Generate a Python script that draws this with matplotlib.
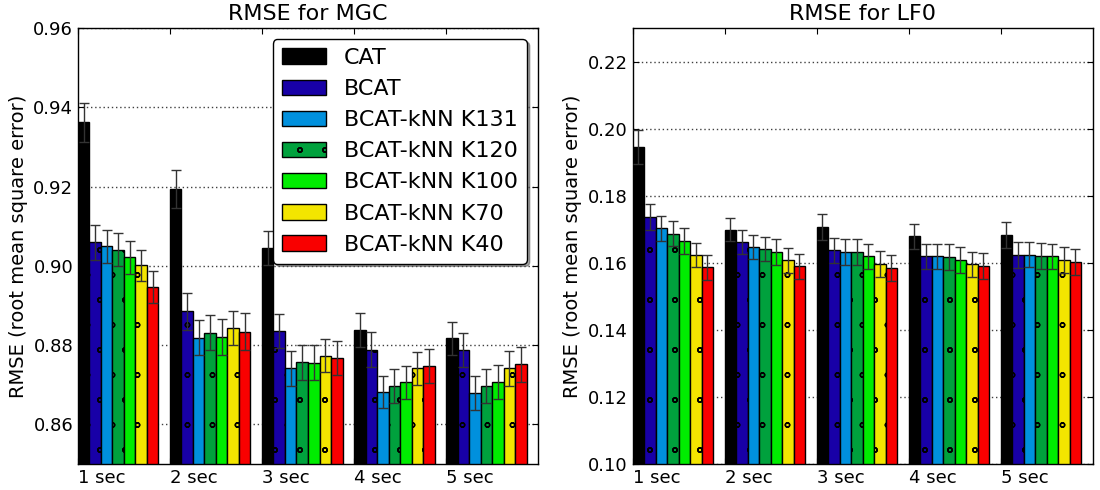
import matplotlib
matplotlib.use('Agg')
import matplotlib.pyplot as plt
import matplotlib.hatch as mhatch
from matplotlib.backend_bases import GraphicsContextBase
from matplotlib.path import Path
import numpy as np

# Daten
dauer = ['1 sec', '2 sec', '3 sec', '4 sec', '5 sec']
methoden = ['CAT', 'BCAT', 'BCAT-kNN K131', 'BCAT-kNN K120',
            'BCAT-kNN K100', 'BCAT-kNN K70', 'BCAT-kNN K40']

mgc_cat = [0.9362, 0.9193, 0.9045, 0.8837, 0.8817]
mgc_bcat = [0.9059, 0.8885, 0.8836, 0.8788, 0.8787]
mgc_k131 = [0.9049, 0.8819, 0.8741, 0.8681, 0.8679]
mgc_k120 = [0.9041, 0.8831, 0.8757, 0.8696, 0.8697]
mgc_k100 = [0.9021, 0.8820, 0.8756, 0.8706, 0.8706]
mgc_k70 = [0.9001, 0.8842, 0.8773, 0.8741, 0.8741]
mgc_k40 = [0.8947, 0.8834, 0.8768, 0.8748, 0.8751]

mgc_err_cat = [0.0049, 0.0048, 0.0044, 0.0043, 0.0042]
mgc_err_bcat = [0.0044, 0.0047, 0.0043, 0.0044, 0.0043]
mgc_err_k131 = [0.0041, 0.0045, 0.0043, 0.0041, 0.0042]
mgc_err_k120 = [0.0042, 0.0044, 0.0044, 0.0043, 0.0043]
mgc_err_k100 = [0.0041, 0.0045, 0.0043, 0.0042, 0.0043]
mgc_err_k70 = [0.0040, 0.0043, 0.0042, 0.0042, 0.0043]
mgc_err_k40 = [0.0040, 0.0046, 0.0043, 0.0043, 0.0043]

lf0_cat = [0.1946, 0.1699, 0.1707, 0.1679, 0.1683]
lf0_bcat = [0.1736, 0.1661, 0.1637, 0.1619, 0.1623]
lf0_k131 = [0.1703, 0.1648, 0.1632, 0.1619, 0.1624]
lf0_k120 = [0.1687, 0.1641, 0.1631, 0.1617, 0.1620]
lf0_k100 = [0.1664, 0.1632, 0.1619, 0.1608, 0.1619]
lf0_k70 = [0.1623, 0.1607, 0.1597, 0.1595, 0.1607]
lf0_k40 = [0.1586, 0.1589, 0.1585, 0.1591, 0.1601]

lf0_err_cat = [0.0051, 0.0035, 0.0038, 0.0037, 0.0039]
lf0_err_bcat = [0.0038, 0.0036, 0.0037, 0.0038, 0.0038]
lf0_err_k131 = [0.0037, 0.0036, 0.0038, 0.0038, 0.0037]
lf0_err_k120 = [0.0037, 0.0037, 0.0039, 0.0038, 0.0039]
lf0_err_k100 = [0.0039, 0.0038, 0.0038, 0.0038, 0.0038]
lf0_err_k70 = [0.0037, 0.0038, 0.0038, 0.0038, 0.0039]
lf0_err_k40 = [0.0036, 0.0036, 0.0038, 0.0038, 0.0039]

mgc = [mgc_cat, mgc_bcat, mgc_k131, mgc_k120, mgc_k100, mgc_k70, mgc_k40]
mgc_err = [mgc_err_cat, mgc_err_bcat, mgc_err_k131, mgc_err_k120,
           mgc_err_k100, mgc_err_k70, mgc_err_k40]
lf0 = [lf0_cat, lf0_bcat, lf0_k131, lf0_k120, lf0_k100, lf0_k70, lf0_k40]
lf0_err = [lf0_err_cat, lf0_err_bcat, lf0_err_k131, lf0_err_k120,
           lf0_err_k100, lf0_err_k70, lf0_err_k40]

hatches = [None, 'o', None, 'o', None, 'o', None]

# kleinere und weiter auseinander liegende Kreise als Schraffur
mhatch.SmallCircles.size = 0.09


def get_hatch_path(self, density=4.0):
    hatch = self.get_hatch()
    if hatch is None:
        return None
    return Path.hatch(hatch, density)


GraphicsContextBase.get_hatch_path = get_hatch_path

plt.rcParams['font.family'] = 'DejaVu Sans'
plt.rcParams['xtick.direction'] = 'in'
plt.rcParams['ytick.direction'] = 'in'
plt.rcParams['xtick.top'] = True
plt.rcParams['ytick.right'] = True
plt.rcParams['xtick.major.size'] = 4
plt.rcParams['ytick.major.size'] = 4
plt.rcParams['hatch.linewidth'] = 1.0
plt.rcParams['axes.linewidth'] = 1.0

cmap = plt.get_cmap('nipy_spectral')
farben = [cmap(i / 7.0) for i in range(7)]

fig = plt.figure(figsize=(11, 4.9), dpi=100)
ax1 = fig.add_axes([0.0709, 0.0531, 0.4182, 0.8898])
ax2 = fig.add_axes([0.5752, 0.0531, 0.4182, 0.8898])

breite = 0.125
ind = np.arange(len(dauer))


def zeichne(ax, werte, fehler, titel, ylim, yticks):
    for i in range(len(methoden)):
        x = ind + i * breite
        ax.bar(x, werte[i], breite, align='edge', color=farben[i],
               edgecolor='black', linewidth=1.0, hatch=hatches[i],
               label=methoden[i], zorder=2)
        ax.errorbar(x + breite / 2, werte[i], yerr=fehler[i], fmt='none',
                    ecolor='0.2', elinewidth=1.0, capsize=3.6, capthick=1.0,
                    zorder=3)
    ax.set_xlim(0, len(dauer))
    ax.set_ylim(ylim)
    ax.set_yticks(yticks)
    ax.set_yticklabels(['%.2f' % t for t in yticks], fontsize=13)
    ax.set_xticks(ind)
    ax.set_xticklabels(dauer, fontsize=13, ha='left')
    ax.yaxis.grid(True, linestyle=(0, (1, 2)), color='0.25', linewidth=1.0)
    ax.set_axisbelow(True)
    ax.set_title(titel, fontsize=16)
    ax.set_ylabel('RMSE (root mean square error)', fontsize=14)


zeichne(ax1, mgc, mgc_err, 'RMSE for MGC', (0.85, 0.96),
        [0.86, 0.88, 0.90, 0.92, 0.94, 0.96])
zeichne(ax2, lf0, lf0_err, 'RMSE for LF0', (0.10, 0.23),
        [0.10, 0.12, 0.14, 0.16, 0.18, 0.20, 0.22])

leg = ax1.legend(loc='upper right', fontsize=16, fancybox=True, shadow=True,
                 handlelength=2.0, handleheight=0.7, labelspacing=0.5,
                 framealpha=1.0)
leg.get_frame().set_edgecolor('black')
leg.get_frame().set_linewidth(1.0)

plt.savefig('out.png', dpi=100)
